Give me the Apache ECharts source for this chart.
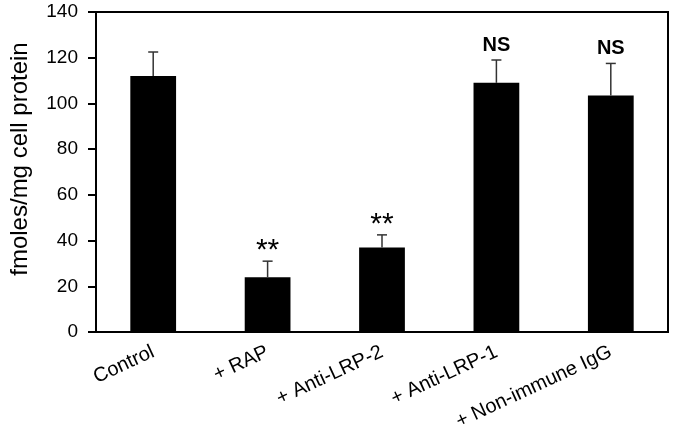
<!DOCTYPE html>
<html>
<head>
<meta charset="utf-8">
<script src="https://cdn.jsdelivr.net/npm/echarts@6/dist/echarts.min.js"></script>
<style>html,body{margin:0;padding:0;background:#fff}#c{width:675px;height:433px}</style>
</head>
<body>
<div id="c"></div>
<script>
var categories = ['Control', '+ RAP', '+ Anti-LRP-2', '+ Anti-LRP-1', '+ Non-immune IgG'];
var means = [112, 24, 37, 109, 103.5];
var errTops = [122.5, 31, 42.5, 119, 117.5];
var marks = ['', '**', '**', 'NS', 'NS'];
var yTicks = [0, 20, 40, 60, 80, 100, 120, 140];

var chart = echarts.init(document.getElementById('c'));
var FONT = 'Liberation Sans, Arial, sans-serif';
chart.setOption({
  animation: false,
  grid: { left: 90, top: 12, right: 7, bottom: 99, show: true, borderColor: '#000', borderWidth: 2 },
  xAxis: {
    type: 'category',
    data: categories,
    axisLine: { show: true, lineStyle: { color: '#000', width: 2 } },
    axisTick: { show: false },
    axisLabel: { rotate: 25, margin: 19, fontSize: 20, color: '#000', fontFamily: FONT, interval: 0 }
  },
  yAxis: {
    type: 'value', min: 0, max: 140, interval: 20,
    name: 'fmoles/mg cell protein', nameLocation: 'middle', nameGap: 64,
    nameTextStyle: { fontSize: 24, color: '#000', fontFamily: FONT, padding: [0, 0, 0, 26] },
    axisLine: { show: true, lineStyle: { color: '#000', width: 2 } },
    axisTick: { show: true, inside: false, length: 8, lineStyle: { color: '#000', width: 2 } },
    axisLabel: { margin: 18, fontSize: 19, color: '#000', fontFamily: FONT,
      formatter: function (v) { return yTicks.indexOf(v) >= 0 ? String(v) : ''; } },
    splitLine: { show: false }
  },
  series: [
    {
      type: 'bar', data: means, barWidth: '40%',
      itemStyle: { color: '#000' }
    },
    {
      type: 'custom',
      data: categories.map(function (c, i) { return [i, means[i], errTops[i], marks[i]]; }),
      renderItem: function (params, api) {
        var i = params.dataIndex;
        var base = api.coord([api.value(0), api.value(1)]);
        var top = api.coord([api.value(0), api.value(2)]);
        var cap = 5;
        var mark = marks[i];
        var children = [
          { type: 'line', shape: { x1: top[0], y1: base[1], x2: top[0], y2: top[1] }, style: { stroke: '#333', lineWidth: 1.5 } },
          { type: 'line', shape: { x1: top[0] - cap, y1: top[1], x2: top[0] + cap, y2: top[1] }, style: { stroke: '#333', lineWidth: 1.5 } }
        ];
        if (mark === '**') {
          children.push({ type: 'text', style: { text: mark, x: top[0], y: top[1] + 5, align: 'center', verticalAlign: 'bottom',
            font: '30px ' + FONT, fill: '#000' } });
        } else if (mark) {
          children.push({ type: 'text', style: { text: mark, x: top[0], y: top[1] - 5, align: 'center', verticalAlign: 'bottom',
            font: 'bold 20px ' + FONT, fill: '#000' } });
        }
        return { type: 'group', children: children };
      },
      z: 5
    }
  ]
});
</script>
</body>
</html>
